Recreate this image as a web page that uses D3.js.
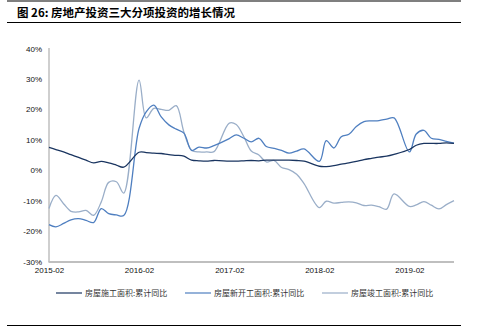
<!DOCTYPE html>
<html><head><meta charset="utf-8">
<script src="https://cdn.jsdelivr.net/npm/d3@7"></script>
<style>
html,body{margin:0;padding:0;background:#fff;}
svg{display:block;}
</style></head>
<body>
<svg id="chart" width="481" height="329"></svg>
<script>
const months = [
 "2015-02","2015-03","2015-04","2015-05","2015-06","2015-07","2015-08","2015-09","2015-10","2015-11","2015-12",
 "2016-02","2016-03","2016-04","2016-05","2016-06","2016-07","2016-08","2016-09","2016-10","2016-11","2016-12",
 "2017-02","2017-03","2017-04","2017-05","2017-06","2017-07","2017-08","2017-09","2017-10","2017-11","2017-12",
 "2018-02","2018-03","2018-04","2018-05","2018-06","2018-07","2018-08","2018-09","2018-10","2018-11","2018-12",
 "2019-02","2019-03","2019-04","2019-05","2019-06","2019-07","2019-08"];
const construction = [
 7.5,6.8,6.0,5.1,4.2,3.3,2.4,2.9,2.4,1.7,1.0,
 5.9,5.8,5.6,5.5,5.1,4.9,4.6,3.3,3.1,3.0,3.2,
 3.0,3.0,3.1,3.2,3.1,3.3,3.3,3.3,3.3,3.2,3.0,
 1.3,1.2,1.5,2.0,2.4,2.9,3.5,3.9,4.3,4.6,5.2,
 6.8,8.2,8.8,8.8,8.8,9.0,8.8];
const newStarts = [
 -17.9,-18.6,-17.5,-16.3,-15.9,-16.5,-17.2,-12.6,-14.3,-14.7,-14.9,
 13.7,19.2,21.4,17.5,14.9,13.5,12.2,6.5,7.6,7.3,8.1,
 10.4,11.6,10.5,9.3,10.5,7.8,7.2,6.5,5.6,6.3,7.0,
 2.9,9.7,7.3,11.0,11.8,14.4,16.0,16.2,16.3,16.8,17.2,
 6.0,11.9,13.1,10.5,10.1,9.5,8.9];
const completions = [
 -12.6,-8.3,-11.0,-13.5,-13.7,-13.2,-14.8,-10.4,-4.0,-3.8,-7.5,
 29.6,17.2,20.3,20.0,19.7,21.2,12.5,6.6,6.0,6.0,6.1,
 15.5,15.0,11.0,6.3,5.0,2.7,3.2,0.9,0.2,-1.3,-4.4,
 -12.3,-10.2,-10.8,-10.6,-10.4,-10.7,-11.6,-11.5,-12.0,-12.8,-7.8,
 -11.9,-11.4,-10.3,-11.5,-12.7,-11.3,-10.0];
const yTicks = [-30,-20,-10,0,10,20,30,40];
const xTickLabels = ["2015-02","2016-02","2017-02","2018-02","2019-02"];
const seriesNames = ["房屋施工面积:累计同比","房屋新开工面积:累计同比","房屋竣工面积:累计同比"];
const seriesColors = ["#1a3560","#4f7fc0","#9aaec8"];

const svg = d3.select("#chart");
const parse = d3.timeParse("%Y-%m");
const dates = months.map(parse);

const x = d3.scaleTime().domain([parse("2015-02"), parse("2019-08")]).range([49, 454]);
const y = d3.scaleLinear().domain([-30, 40]).range([261.5, 48.5]);

// title bars
svg.append("line").attr("x1",7).attr("x2",461).attr("y1",1).attr("y2",1).attr("stroke","#000").attr("stroke-width",1.2);
svg.append("line").attr("x1",7).attr("x2",461).attr("y1",22.5).attr("y2",22.5).attr("stroke","#000").attr("stroke-width",1.2);
svg.append("line").attr("x1",7).attr("x2",461).attr("y1",325.5).attr("y2",325.5).attr("stroke","#000").attr("stroke-width",1.2);
svg.append("text").attr("x",17).attr("y",17)
  .attr("font-family","'Noto Sans CJK SC', sans-serif").attr("font-weight","bold").attr("font-size",11.5)
  .attr("fill","#000").text("图 26: 房地产投资三大分项投资的增长情况");

// axes
const yAxis = d3.axisLeft(y).tickValues(yTicks).tickSize(0).tickPadding(7).tickFormat(d => d + "%");
const gy = svg.append("g").attr("transform","translate(49,0)").call(yAxis);
gy.select(".domain").remove();
gy.selectAll("text").attr("font-family","'Liberation Sans', Arial, sans-serif").attr("font-size",8).attr("fill","#111");

const xAxis = d3.axisBottom(x).tickValues(xTickLabels.map(parse)).tickSize(0).tickPadding(5).tickFormat(d3.timeFormat("%Y-%m"));
const gx = svg.append("g").attr("transform","translate(0,262)").call(xAxis);
gx.select(".domain").remove();
gx.selectAll("text").attr("font-family","'Liberation Sans', Arial, sans-serif").attr("font-size",8).attr("fill","#111");

svg.append("line").attr("x1",49).attr("x2",49).attr("y1",48).attr("y2",262).attr("stroke","#bfbfbf").attr("stroke-width",1.5);
svg.append("line").attr("x1",48.5).attr("x2",454).attr("y1",262).attr("y2",262).attr("stroke","#bfbfbf").attr("stroke-width",2);

// lines
const allSeries = [construction, newStarts, completions];
const line = d3.line().x((d,i) => x(dates[i])).y(d => y(d)).curve(d3.curveCatmullRom.alpha(0.5));
[2,1,0].forEach(k => {
  svg.append("path").datum(allSeries[k]).attr("d", line)
    .attr("fill","none").attr("stroke", seriesColors[k]).attr("stroke-width",1.3);
});

// legend
const legendX = [56, 185, 322];
seriesNames.forEach((name,k) => {
  const g = svg.append("g").attr("transform",`translate(${legendX[k]},293)`);
  g.append("line").attr("x1",0).attr("x2",26).attr("y1",0).attr("y2",0)
    .attr("stroke", seriesColors[k]).attr("stroke-width",1.5).attr("opacity",0.8);
  g.append("text").attr("x",29).attr("y",3).attr("font-family","'Noto Sans CJK SC', sans-serif")
    .attr("font-size",8).attr("fill","#333").text(name);
});
</script>
</body></html>
